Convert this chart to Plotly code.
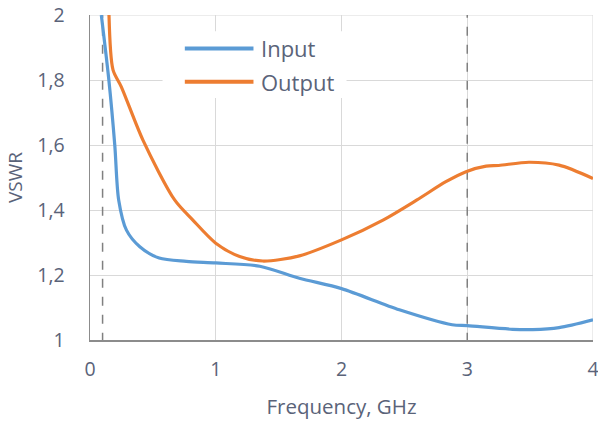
import plotly.graph_objects as go

# Data
in_x = [0.09, 0.15, 0.197, 0.228, 0.29, 0.396, 0.55, 0.766, 1.0, 1.35, 1.665, 2.0, 2.46, 2.88, 3.0, 3.36, 3.52, 3.73, 4.0]
in_y = [2.0, 1.8, 1.6, 1.431, 1.338, 1.287, 1.252, 1.242, 1.237, 1.227, 1.19, 1.158, 1.093, 1.047, 1.044, 1.033, 1.032, 1.038, 1.062]

out_x = [0.151, 0.183, 0.249, 0.421, 0.673, 0.818, 1.0, 1.19, 1.374, 1.665, 2.0, 2.33, 2.6, 2.83, 2.99, 3.15, 3.25, 3.49, 3.73, 4.0]
out_y = [2.0, 1.831, 1.779, 1.615, 1.431, 1.369, 1.298, 1.257, 1.243, 1.259, 1.308, 1.369, 1.431, 1.487, 1.518, 1.535, 1.537, 1.547, 1.538, 1.497]

x_ticks = [0, 1, 2, 3, 4]
y_ticks = [1.0, 1.2, 1.4, 1.6, 1.8, 2.0]
y_ticktext = ["1", "1,2", "1,4", "1,6", "1,8", "2"]
markers_x = [0.1, 3.0]

BLUE = "#5b9bd5"
ORANGE = "#ed7d31"
TXT = "#5a6379"
FONT = "Open Sans"
TICK_SIZE = 19.5
LEG_SIZE = 22
XTITLE_SIZE = 20.5
YTITLE_SIZE = 19

fig = go.Figure()
fig.add_trace(go.Scatter(x=in_x, y=in_y, mode="lines", name="Input",
                         line=dict(color=BLUE, width=3.2, shape="spline", smoothing=0.8),
                         showlegend=False, cliponaxis=True))
fig.add_trace(go.Scatter(x=out_x, y=out_y, mode="lines", name="Output",
                         line=dict(color=ORANGE, width=3.2, shape="spline", smoothing=0.8),
                         showlegend=False, cliponaxis=True))

shapes = []
# outer gridlines (top and right)
shapes.append(dict(type="line", xref="x", yref="y", x0=4, x1=4, y0=1, y1=2,
                   line=dict(color="#d9d9d9", width=1), layer="below"))
shapes.append(dict(type="line", xref="x", yref="y", x0=0, x1=4, y0=2, y1=2,
                   line=dict(color="#d9d9d9", width=1), layer="below"))
for mx in markers_x:
    shapes.append(dict(type="line", xref="x", yref="y", x0=mx, x1=mx, y0=0.995, y1=2.0,
                       line=dict(color="#808080", width=1.5, dash="dash"), layer="between"))
# custom legend box
shapes.append(dict(type="rect", xref="x", yref="y", x0=0.577, x1=2.04, y0=1.745, y1=1.95,
                   fillcolor="white", line=dict(width=0), layer="between"))
shapes.append(dict(type="line", xref="x", yref="y", x0=0.754, x1=1.30, y0=1.897, y1=1.897,
                   line=dict(color=BLUE, width=4), layer="above"))
shapes.append(dict(type="line", xref="x", yref="y", x0=0.754, x1=1.30, y0=1.795, y1=1.795,
                   line=dict(color=ORANGE, width=4), layer="above"))

annotations = [
    dict(x=1.34, y=1.897, xref="x", yref="y", text="Input", showarrow=False,
         xanchor="left", yanchor="middle", font=dict(size=LEG_SIZE, color=TXT, family=FONT)),
    dict(x=1.34, y=1.795, xref="x", yref="y", text="Output", showarrow=False,
         xanchor="left", yanchor="middle", font=dict(size=LEG_SIZE, color=TXT, family=FONT)),
]

fig.update_layout(
    width=598, height=425,
    margin=dict(l=90, r=5, t=15, b=85),
    paper_bgcolor="white", plot_bgcolor="white",
    font=dict(family=FONT, color=TXT, size=TICK_SIZE),
    shapes=shapes, annotations=annotations,
    xaxis=dict(range=[0, 4], tickvals=x_ticks, showgrid=True, gridcolor="#d9d9d9", gridwidth=1,
               showline=True, linecolor="#8c8c8c", linewidth=1.5, zeroline=False,
               ticks="outside", ticklen=11, tickcolor="rgba(0,0,0,0)",
               tickfont=dict(size=TICK_SIZE, color=TXT), automargin=False,
               ticklabeloverflow="allow",
               title=dict(text="Frequency, GHz", font=dict(size=XTITLE_SIZE, color=TXT), standoff=18)),
    yaxis=dict(range=[1, 2], tickvals=y_ticks, ticktext=y_ticktext, showgrid=True,
               gridcolor="#d9d9d9", gridwidth=1, showline=True, linecolor="#8c8c8c",
               linewidth=1.5, zeroline=False, ticks="outside", ticklen=20,
               tickcolor="rgba(0,0,0,0)", tickfont=dict(size=TICK_SIZE, color=TXT),
               automargin=False, ticklabeloverflow="allow",
               title=dict(text="VSWR", font=dict(size=YTITLE_SIZE, color=TXT), standoff=9)),
)

fig.write_html("out.html", config={"displayModeBar": False, "staticPlot": True},
               post_script="document.body.style.margin='0';document.body.style.overflow='hidden';")
